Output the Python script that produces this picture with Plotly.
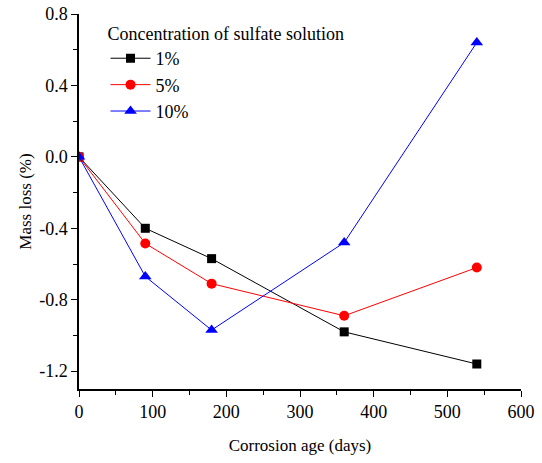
import plotly.graph_objects as go

# Corrosion age (days) and mass loss (%) for each sulfate concentration
days = [0, 90, 180, 360, 540]
loss_1 = [0.0, -0.40, -0.57, -0.98, -1.16]
loss_5 = [0.0, -0.485, -0.71, -0.89, -0.62]
loss_10 = [0.0, -0.67, -0.97, -0.48, 0.64]
series_names = ["1%", "5%", "10%"]
x_ticks = [0, 100, 200, 300, 400, 500, 600]
y_ticks = [-1.2, -0.8, -0.4, 0.0, 0.4, 0.8]

FONT = "Liberation Serif"

fig = go.Figure()
styles = [
    (loss_1, "black", "square", 9),
    (loss_5, "red", "circle", 10),
    (loss_10, "blue", "triangle-up", 11),
]
for name, (vals, color, sym, size) in zip(series_names, styles):
    fig.add_trace(go.Scatter(
        x=days, y=vals, name=name, mode="lines+markers",
        line=dict(color=color, width=1),
        marker=dict(symbol=sym, size=size, color=color),
    ))

axis_common = dict(
    showline=True, linecolor="black", linewidth=1.5, mirror=False,
    showgrid=False, zeroline=False, automargin=False,
    ticks="outside", ticklen=6, tickwidth=1.2, tickcolor="black",
    tickfont=dict(family=FONT, size=18, color="black"),
)

fig.update_xaxes(
    range=[0, 600], tickvals=x_ticks,
    minor=dict(ticks="outside", ticklen=4, tickwidth=1, tickcolor="black", dtick=50, tick0=0),
    title=dict(text="Corrosion age (days)", font=dict(family=FONT, size=17, color="black"), standoff=18),
    **axis_common,
)
fig.update_yaxes(
    range=[-1.3, 0.8], tickvals=y_ticks, ticktext=[f"{v:.1f}" for v in y_ticks],
    minor=dict(ticks="outside", ticklen=4, tickwidth=1, tickcolor="black", dtick=0.2, tick0=0),
    title=dict(text="Mass loss (%)", font=dict(family=FONT, size=17, color="black"), standoff=3),
    **axis_common,
)

fig.update_layout(
    width=542, height=463,
    margin=dict(l=79, r=21, t=14, b=74),
    paper_bgcolor="white", plot_bgcolor="white",
    font=dict(family=FONT, color="black"),
    legend=dict(
        title=dict(text="Concentration of sulfate solution", font=dict(family=FONT, size=18)),
        font=dict(family=FONT, size=18),
        x=0.06, y=0.993, xanchor="left", yanchor="top",
        bgcolor="rgba(0,0,0,0)", itemwidth=40, tracegroupgap=0,
    ),
)

fig.write_html("out.html")
